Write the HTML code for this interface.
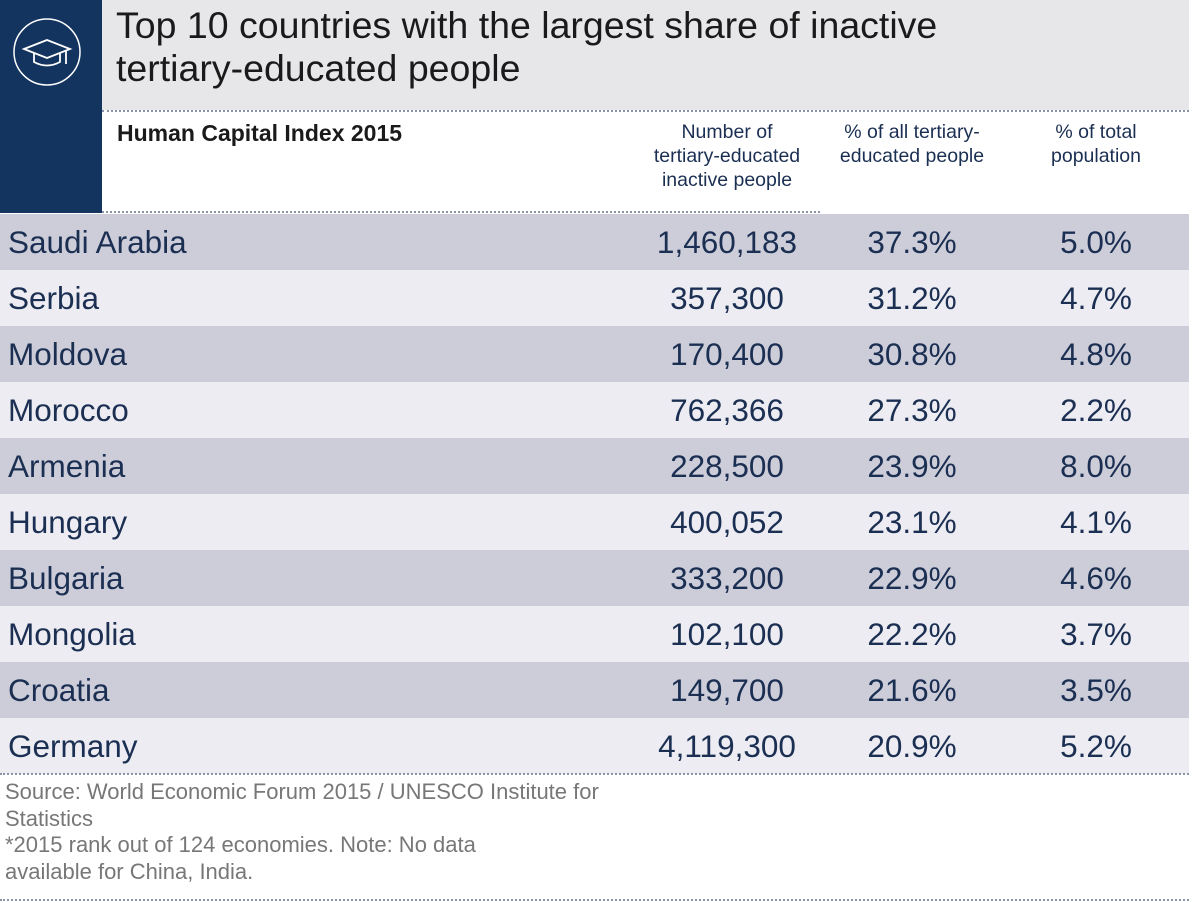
<!DOCTYPE html>
<html><head><meta charset="utf-8"><style>
body{margin:0;width:1200px;height:903px;background:#fff;position:relative;overflow:hidden;font-family:"Liberation Sans",sans-serif}
.a{position:absolute}
.row{position:absolute;left:0;width:1189px;height:56px;color:#1b2f52;font-size:31.5px;line-height:56px}
.row span{position:absolute;top:0}
.c{text-align:center;width:240px}
.dot{position:absolute;height:0;border-top:2px dotted #8a93a8}
.h{position:absolute;text-align:center;width:240px;font-size:19.5px;line-height:24px;color:#1b2f52;top:120px}
</style></head><body>
<div class="a" style="left:0;top:0;width:102px;height:213px;background:#13345f"></div>
<div class="a" style="left:102px;top:0;width:1087px;height:110px;background:#e7e7ea"></div>
<svg class="a" style="left:12px;top:17px" width="70" height="70" viewBox="0 0 70 70">
<circle cx="35" cy="35" r="33" fill="none" stroke="#fff" stroke-width="1.5"/>
<path d="M12 32 L35 23 L58 32 L35 41 Z" fill="none" stroke="#fff" stroke-width="1.8"/>
<path d="M22 36 V45 Q35 52 48 45 V36" fill="none" stroke="#fff" stroke-width="1.8"/>
<path d="M54 34 V47" stroke="#fff" stroke-width="1.8"/>
</svg>
<div class="a" style="left:116px;top:4px;font-size:37.5px;line-height:43px;color:#1a1a1a">Top 10 countries with the largest share of inactive<br>tertiary-educated people</div>
<div class="dot" style="left:102px;top:110px;width:1087px"></div>
<div class="a" style="left:117px;top:120px;font-size:23px;font-weight:bold;color:#1a1a1a;line-height:26px">Human Capital Index 2015</div>
<div class="h" style="left:607px">Number of<br>tertiary-educated<br>inactive people</div>
<div class="h" style="left:792px">% of all tertiary-<br>educated people</div>
<div class="h" style="left:976px">% of total<br>population</div>
<div class="dot" style="left:102px;top:211px;width:718px"></div>
<div class="row" style="top:214px;background:#cdcdd9"><span style="left:8px">Saudi Arabia</span><span class="c" style="left:607px">1,460,183</span><span class="c" style="left:792px">37.3%</span><span class="c" style="left:976px">5.0%</span></div>
<div class="row" style="top:270px;background:#ececf2"><span style="left:8px">Serbia</span><span class="c" style="left:607px">357,300</span><span class="c" style="left:792px">31.2%</span><span class="c" style="left:976px">4.7%</span></div>
<div class="row" style="top:326px;background:#cdcdd9"><span style="left:8px">Moldova</span><span class="c" style="left:607px">170,400</span><span class="c" style="left:792px">30.8%</span><span class="c" style="left:976px">4.8%</span></div>
<div class="row" style="top:382px;background:#ececf2"><span style="left:8px">Morocco</span><span class="c" style="left:607px">762,366</span><span class="c" style="left:792px">27.3%</span><span class="c" style="left:976px">2.2%</span></div>
<div class="row" style="top:438px;background:#cdcdd9"><span style="left:8px">Armenia</span><span class="c" style="left:607px">228,500</span><span class="c" style="left:792px">23.9%</span><span class="c" style="left:976px">8.0%</span></div>
<div class="row" style="top:494px;background:#ececf2"><span style="left:8px">Hungary</span><span class="c" style="left:607px">400,052</span><span class="c" style="left:792px">23.1%</span><span class="c" style="left:976px">4.1%</span></div>
<div class="row" style="top:550px;background:#cdcdd9"><span style="left:8px">Bulgaria</span><span class="c" style="left:607px">333,200</span><span class="c" style="left:792px">22.9%</span><span class="c" style="left:976px">4.6%</span></div>
<div class="row" style="top:606px;background:#ececf2"><span style="left:8px">Mongolia</span><span class="c" style="left:607px">102,100</span><span class="c" style="left:792px">22.2%</span><span class="c" style="left:976px">3.7%</span></div>
<div class="row" style="top:662px;background:#cdcdd9"><span style="left:8px">Croatia</span><span class="c" style="left:607px">149,700</span><span class="c" style="left:792px">21.6%</span><span class="c" style="left:976px">3.5%</span></div>
<div class="row" style="top:718px;background:#ececf2"><span style="left:8px">Germany</span><span class="c" style="left:607px">4,119,300</span><span class="c" style="left:792px">20.9%</span><span class="c" style="left:976px">5.2%</span></div>
<div class="dot" style="left:0;top:773px;width:1189px"></div>
<div class="a" style="left:5px;top:779px;font-size:22px;line-height:26.5px;color:#777">Source: World Economic Forum 2015 / UNESCO Institute for<br>Statistics<br>*2015 rank out of 124 economies. Note: No data<br>available for China, India.</div>
<div class="dot" style="left:0;top:899px;width:1189px"></div>
</body></html>
